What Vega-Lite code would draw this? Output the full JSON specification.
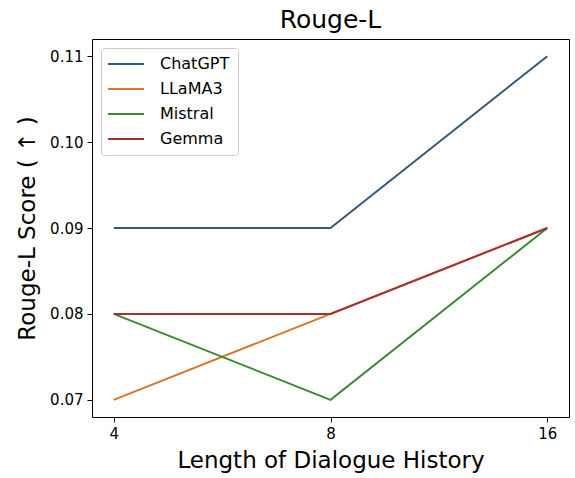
{
  "$schema": "https://vega.github.io/schema/vega-lite/v6.json",
  "autosize": {"type": "none"},
  "padding": {"left": 92, "top": 39, "right": 6, "bottom": 61},
  "width": 477,
  "height": 378,
  "background": "white",
  "title": {
    "text": "Rouge-L",
    "font": "DejaVu Sans",
    "fontSize": 25,
    "fontWeight": "normal",
    "color": "black",
    "anchor": "middle",
    "offset": 6
  },
  "data": {
    "values": [
      {"model": "ChatGPT", "history": "4", "score": 0.09},
      {"model": "ChatGPT", "history": "8", "score": 0.09},
      {"model": "ChatGPT", "history": "16", "score": 0.11},
      {"model": "LLaMA3", "history": "4", "score": 0.07},
      {"model": "LLaMA3", "history": "8", "score": 0.08},
      {"model": "LLaMA3", "history": "16", "score": 0.09},
      {"model": "Mistral", "history": "4", "score": 0.08},
      {"model": "Mistral", "history": "8", "score": 0.07},
      {"model": "Mistral", "history": "16", "score": 0.09},
      {"model": "Gemma", "history": "4", "score": 0.08},
      {"model": "Gemma", "history": "8", "score": 0.08},
      {"model": "Gemma", "history": "16", "score": 0.09}
    ]
  },
  "mark": {"type": "line", "strokeWidth": 2},
  "encoding": {
    "x": {
      "field": "history",
      "type": "ordinal",
      "sort": ["4", "8", "16"],
      "scale": {"type": "point", "padding": 0.1},
      "axis": {"title": "Length of Dialogue History", "labelAngle": 0}
    },
    "y": {
      "field": "score",
      "type": "quantitative",
      "scale": {"domain": [0.068, 0.112], "nice": false, "zero": false},
      "axis": {
        "title": "Rouge-L Score ( ↑ )",
        "values": [0.07, 0.08, 0.09, 0.1, 0.11],
        "format": ".2f"
      }
    },
    "color": {
      "field": "model",
      "type": "nominal",
      "sort": ["ChatGPT", "LLaMA3", "Mistral", "Gemma"],
      "scale": {
        "domain": ["ChatGPT", "LLaMA3", "Mistral", "Gemma"],
        "range": ["#36597a", "#d8762c", "#3b8a33", "#a3332e"]
      },
      "legend": {
        "title": null,
        "orient": "top-left",
        "offset": 9,
        "padding": 8,
        "strokeColor": "#cccccc",
        "fillColor": "rgba(255,255,255,0.8)",
        "cornerRadius": 3,
        "symbolType": "M-1.5,0H4.5",
        "symbolSize": 144,
        "symbolStrokeWidth": 2,
        "symbolFillColor": "transparent",
        "labelOffset": 35,
        "labelFont": "DejaVu Sans",
        "labelFontSize": 16,
        "labelColor": "black",
        "rowPadding": 9
      }
    }
  },
  "config": {
    "view": {"stroke": "black", "strokeWidth": 1},
    "axis": {
      "domain": false,
      "grid": false,
      "ticks": true,
      "tickColor": "black",
      "tickSize": 5,
      "labelFont": "DejaVu Sans",
      "labelFontSize": 15,
      "labelColor": "black",
      "labelPadding": 4,
      "titleFont": "DejaVu Sans",
      "titleFontSize": 23,
      "titleFontWeight": "normal",
      "titleColor": "black"
    },
    "axisX": {"titlePadding": 8},
    "axisY": {"titlePadding": 10}
  }
}
